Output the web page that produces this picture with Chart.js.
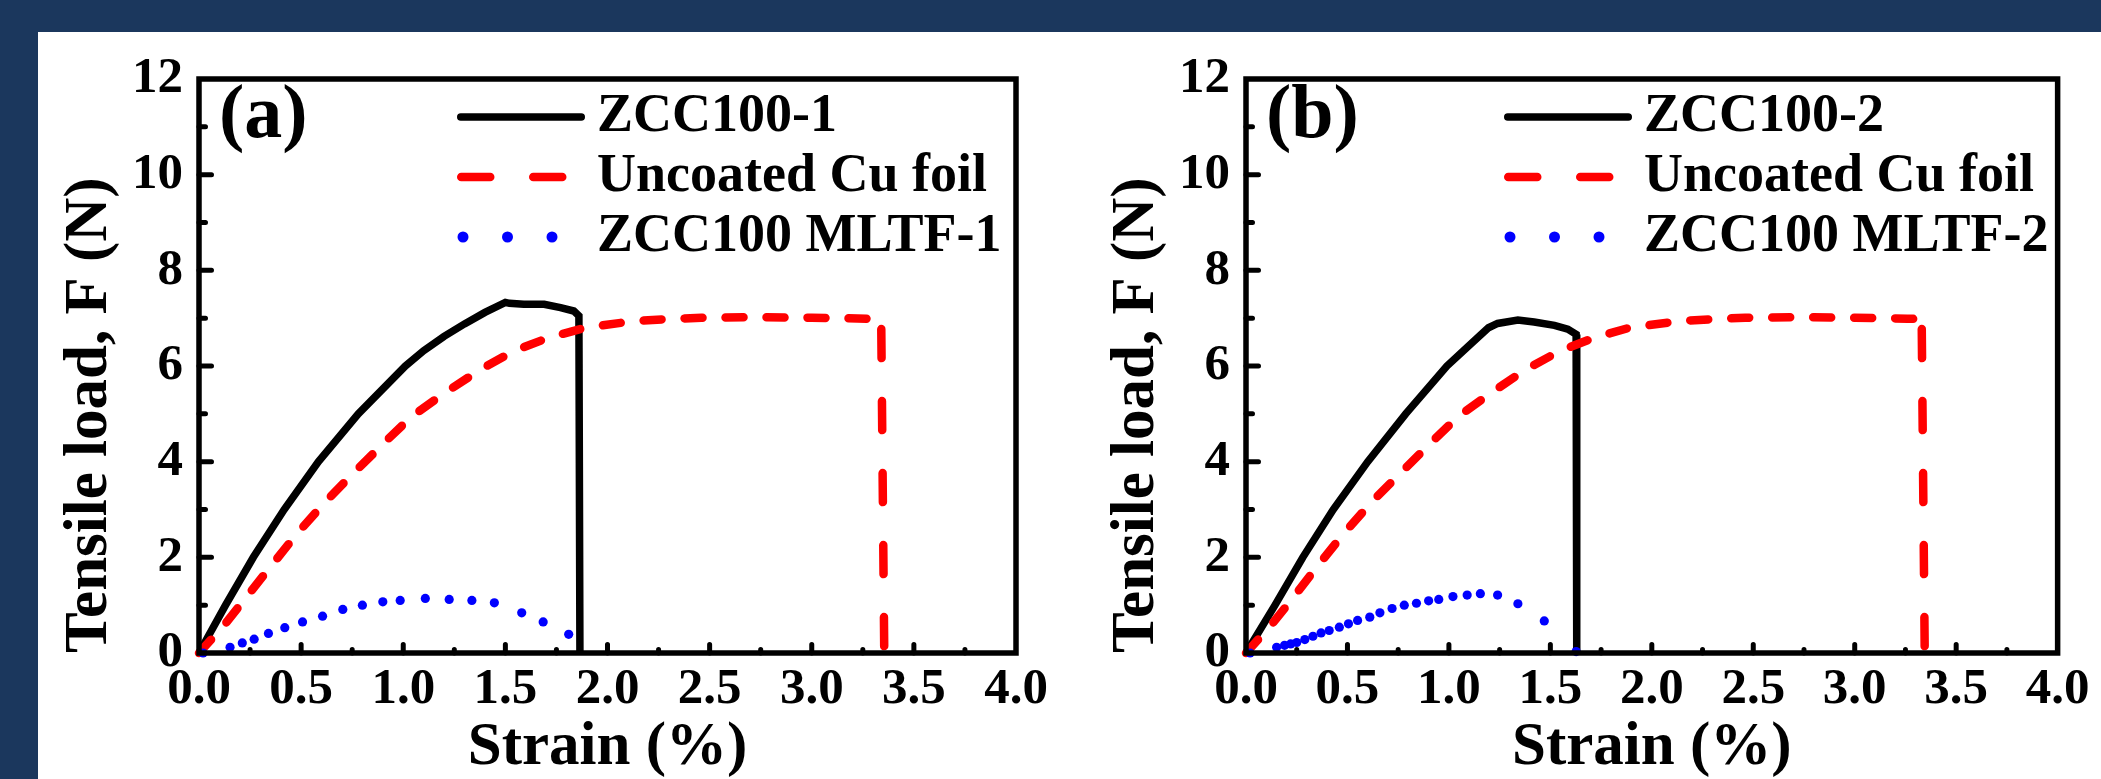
<!DOCTYPE html>
<html lang="en">
<head>
<meta charset="UTF-8">
<title>Tensile load vs strain</title>
<script src="https://cdn.jsdelivr.net/npm/chart.js@4.4.1/dist/chart.umd.min.js"></script>
<style>
  html, body { margin: 0; padding: 0; }
  body { width: 2101px; height: 779px; background: #1b375d; overflow: hidden; position: relative; }
  #paper { position: absolute; left: 38px; top: 32px; right: 0; bottom: 0; background: #fff; }
  .panel { position: absolute; top: 32px; }
</style>
</head>
<body>
<div id="paper"></div>
<div class="panel" style="left:38px"><canvas id="chartA" width="1047" height="747"></canvas></div>
<div class="panel" style="left:1085px"><canvas id="chartB" width="1016" height="747"></canvas></div>

<script>
// ---- panel (a) ----
const strainA_zcc = [0, 0.13, 0.266, 0.417, 0.585, 0.78, 1.01, 1.1, 1.2, 1.3, 1.4, 1.5, 1.52, 1.59, 1.69, 1.77, 1.835, 1.86, 1.865];
const loadA_zcc   = [0, 1.0, 2.0, 3.0, 4.0, 5.0, 6.0, 6.32, 6.62, 6.88, 7.12, 7.33, 7.31, 7.29, 7.29, 7.22, 7.15, 7.05, 0];
const strainA_cu  = [0, 0.127, 0.217, 0.34, 0.479, 0.618, 0.78, 0.92, 1.04, 1.2, 1.38, 1.54, 1.71, 1.89, 2.13, 2.3, 2.46, 2.75, 3.0, 3.27, 3.34, 3.355];
const loadA_cu    = [0, 0.6, 1.09, 1.75, 2.49, 3.16, 3.86, 4.45, 4.94, 5.43, 5.93, 6.31, 6.59, 6.8, 6.94, 6.98, 7.01, 7.02, 7.01, 6.99, 6.98, 0];
const strainA_mltf = [0.02, 0.152, 0.212, 0.27, 0.34, 0.42, 0.507, 0.605, 0.704, 0.8, 0.9, 0.985, 1.108, 1.225, 1.336, 1.446, 1.58, 1.685, 1.81];
const loadA_mltf   = [0, 0.12, 0.21, 0.29, 0.41, 0.53, 0.65, 0.77, 0.91, 1.0, 1.07, 1.1, 1.14, 1.12, 1.1, 1.05, 0.84, 0.65, 0.39];

// ---- panel (b) ----
const strainB_zcc = [0, 0.143, 0.28, 0.43, 0.6, 0.787, 0.99, 1.097, 1.195, 1.24, 1.34, 1.42, 1.52, 1.586, 1.627, 1.63];
const loadB_zcc   = [0, 1.0, 2.0, 3.0, 4.0, 5.0, 6.0, 6.42, 6.8, 6.89, 6.96, 6.92, 6.85, 6.77, 6.66, 0];
const strainB_cu  = [0, 0.127, 0.22, 0.34, 0.48, 0.62, 0.785, 0.925, 1.045, 1.205, 1.38, 1.545, 1.715, 1.89, 2.14, 2.3, 2.46, 2.75, 3.0, 3.26, 3.33, 3.345];
const loadB_cu    = [0, 0.6, 1.09, 1.75, 2.49, 3.16, 3.86, 4.45, 4.94, 5.43, 5.93, 6.31, 6.59, 6.8, 6.94, 6.98, 7.01, 7.02, 7.01, 6.99, 6.98, 0];
const strainB_mltf = [0.02, 0.151, 0.19, 0.22, 0.25, 0.29, 0.33, 0.37, 0.41, 0.46, 0.505, 0.55, 0.61, 0.66, 0.72, 0.78, 0.84, 0.9, 0.95, 1.02, 1.09, 1.155, 1.24, 1.34, 1.47, 1.627];
const loadB_mltf   = [0, 0.12, 0.16, 0.19, 0.22, 0.28, 0.35, 0.42, 0.47, 0.54, 0.61, 0.68, 0.75, 0.84, 0.93, 1.0, 1.04, 1.09, 1.12, 1.18, 1.21, 1.24, 1.21, 1.03, 0.67, 0.03];

const namesA = ['ZCC100-1', 'Uncoated Cu foil', 'ZCC100 MLTF-1'];
const namesB = ['ZCC100-2', 'Uncoated Cu foil', 'ZCC100 MLTF-2'];

const serif = '"Liberation Serif", "Times New Roman", serif';
Chart.defaults.font.family = serif;
Chart.defaults.font.weight = 'bold';
Chart.defaults.color = '#000';

function pts(xs, ys) {
  return xs.map((x, i) => ({ x: x, y: ys[i] }));
}

// box round the plot, inward ticks, the (a)/(b) tag and the key inside the plot
const frameAndKey = {
  id: 'frameAndKey',
  afterDatasetsDraw(chart, args, opts) {
    const ctx = chart.ctx;
    const a = chart.chartArea;
    const sx = chart.scales.x, sy = chart.scales.y;
    ctx.save();
    ctx.strokeStyle = '#000';

    // ticks: majors every 0.5 / 2, minors in between
    ctx.lineWidth = 5;
    ctx.lineCap = 'round';
    ctx.beginPath();
    for (let i = 1; i < 16; i++) {
      const px = sx.getPixelForValue(i * 0.25);
      ctx.moveTo(px, a.bottom);
      ctx.lineTo(px, a.bottom - (i % 2 === 0 ? 8.5 : 3.5));
    }
    for (let i = 1; i < 12; i++) {
      const py = sy.getPixelForValue(i);
      ctx.moveTo(a.left, py);
      ctx.lineTo(a.left + (i % 2 === 0 ? 12.5 : 6.5), py);
    }
    ctx.stroke();

    ctx.lineCap = 'butt';
    ctx.lineWidth = 5.5;
    ctx.strokeRect(a.left, a.top, a.right - a.left, a.bottom - a.top);

    ctx.fillStyle = '#000';
    ctx.textAlign = 'left';
    ctx.textBaseline = 'middle';
    ctx.font = 'bold 76px ' + serif;
    ctx.fillText(opts.tag, a.left + 20, a.top + 38);

    ctx.font = 'bold 54px ' + serif;
    chart.data.datasets.forEach((ds, i) => {
      const y = a.top + 38 + i * 60;
      const x1 = a.left + 258, x2 = a.left + 386;
      if (ds.showLine === false) {
        ctx.fillStyle = ds.backgroundColor;
        for (let x = x1 + 6; x <= x2 - 25; x += 44.5) {
          ctx.beginPath();
          ctx.arc(x, y, 5.5, 0, Math.PI * 2);
          ctx.fill();
        }
      } else {
        ctx.strokeStyle = ds.borderColor;
        ctx.lineWidth = ds.borderWidth;
        ctx.lineCap = 'round';
        ctx.setLineDash(ds.borderDash || []);
        ctx.beginPath();
        ctx.moveTo(x1 + ds.borderWidth / 2, y);
        ctx.lineTo(x2 - ds.borderWidth / 2, y);
        ctx.stroke();
        ctx.setLineDash([]);
      }
      ctx.fillStyle = '#000';
      ctx.fillText(ds.label, a.left + 398, y);
    });
    ctx.restore();
  }
};

function makeChart(id, tag, names, zcc, cu, mltf, rightPad) {
  const tickFont = { family: serif, weight: 'bold', size: 51, lineHeight: 1 };
  const titleFont = { family: serif, weight: 'bold', size: 61, lineHeight: 1 };
  const noGrid = { display: false, drawTicks: false };
  const lastCu = cu.length - 2;   // the drop to zero, drawn with longer dashes

  return new Chart(document.getElementById(id), {
    type: 'scatter',
    data: {
      datasets: [{
        label: names[0],
        data: zcc,
        showLine: true,
        borderColor: '#000',
        borderWidth: 7.5,
        pointRadius: 0,
        tension: 0,
        clip: false,
        order: 3
      }, {
        label: names[1],
        data: cu,
        showLine: true,
        borderColor: '#ff0000',
        borderWidth: 8.5,
        borderDash: [29, 43],
        borderCapStyle: 'round',
        segment: {
          borderDash: c => (c.p0DataIndex >= lastCu ? [29, 43] : [18, 23]),
          borderDashOffset: c => (c.p0DataIndex >= lastCu ? -10 : 0)
        },
        pointRadius: 0,
        tension: 0,
        clip: false,
        order: 2
      }, {
        label: names[2],
        data: mltf,
        showLine: false,
        backgroundColor: '#0000ff',
        borderColor: '#0000ff',
        pointRadius: 4.6,
        pointBorderWidth: 0,
        clip: false,
        order: 1
      }]
    },
    options: {
      responsive: false,
      animation: false,
      layout: { padding: { left: 0, top: 47, right: rightPad, bottom: 0 } },
      plugins: {
        legend: { display: false },
        tooltip: { enabled: false },
        frameAndKey: { tag: tag }
      },
      scales: {
        x: {
          type: 'linear',
          min: 0,
          max: 4,
          afterFit(s) { s.height = 126; },
          border: { display: false },
          grid: noGrid,
          ticks: {
            stepSize: 0.5,
            autoSkip: false,
            maxRotation: 0,
            padding: 11.5,
            font: tickFont,
            callback: v => v.toFixed(1)
          },
          title: { display: true, text: 'Strain (%)', font: titleFont, padding: { top: 0, bottom: 0 } }
        },
        y: {
          type: 'linear',
          min: 0,
          max: 12,
          afterFit(s) { s.width = 161; },
          border: { display: false },
          grid: noGrid,
          ticks: {
            stepSize: 2,
            autoSkip: false,
            padding: 16,
            font: tickFont
          },
          title: { display: true, text: 'Tensile load, F (N)', align: 'start', font: titleFont, padding: { top: 22, bottom: 0 } }
        }
      }
    },
    plugins: [frameAndKey]
  });
}

makeChart('chartA', '(a)', namesA,
  pts(strainA_zcc, loadA_zcc), pts(strainA_cu, loadA_cu), pts(strainA_mltf, loadA_mltf), 69);
makeChart('chartB', '(b)', namesB,
  pts(strainB_zcc, loadB_zcc), pts(strainB_cu, loadB_cu), pts(strainB_mltf, loadB_mltf), 36);
</script>
</body>
</html>
